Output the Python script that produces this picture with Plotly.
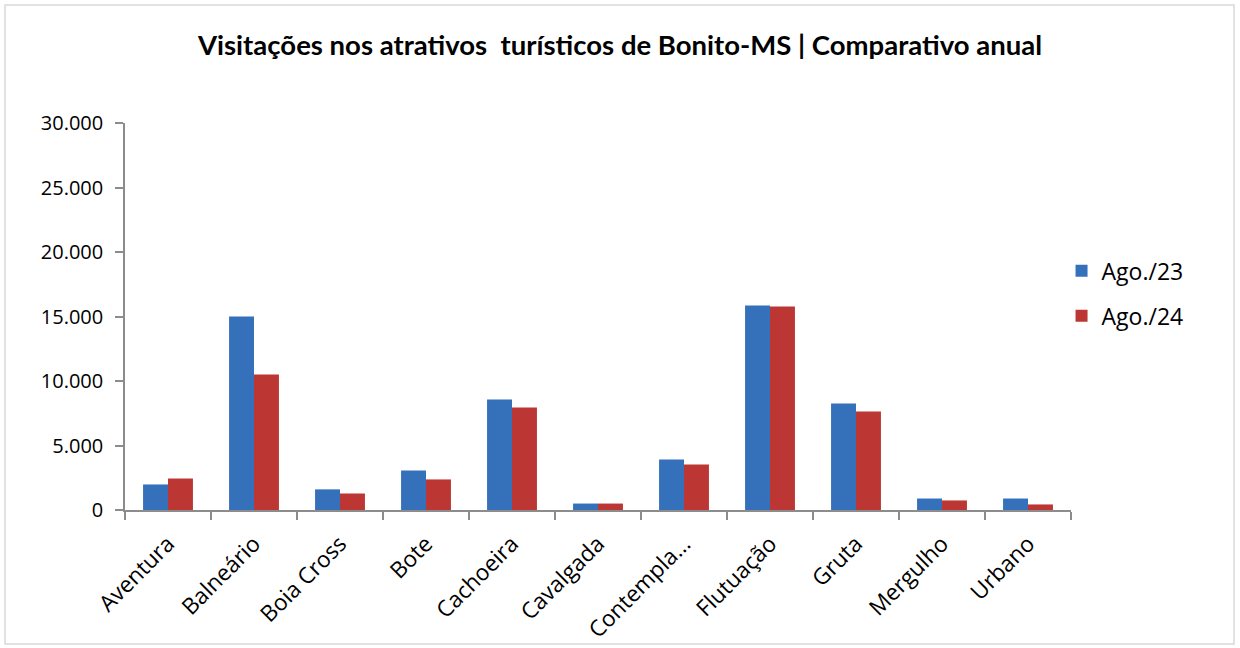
import plotly.graph_objects as go

categories = ["Aventura", "Balneário", "Boia Cross", "Bote", "Cachoeira", "Cavalgada",
              "Contempla...", "Flutuação", "Gruta", "Mergulho", "Urbano"]
ago23 = [1980, 15000, 1600, 3060, 8570, 500, 3910, 15850, 8260, 890, 890]
ago24 = [2440, 10500, 1280, 2370, 7950, 500, 3530, 15770, 7640, 740, 430]
series_names = ["Ago./23", "Ago./24"]
y_ticks = [0, 5000, 10000, 15000, 20000, 25000, 30000]

W, H = 1240, 648
ml, mr, mt, mb = 125, 169, 123, 138

fig = go.Figure()
fig.add_trace(go.Bar(x=categories, y=ago23, name=series_names[0], legendgroup="a",
                     marker=dict(color="#3571BA", line=dict(width=0))))
fig.add_trace(go.Bar(x=categories, y=ago24, name=series_names[1], legendgroup="b",
                     marker=dict(color="#BC3634", line=dict(width=0))))

pw = W - ml - mr
ph = H - mt - mb
fig.add_shape(type="rect", xref="paper", yref="paper",
              x0=(5 - ml) / pw, x1=(W - 6 - ml) / pw,
              y0=(H - 644 - mb) / ph, y1=(H - 5 - mb) / ph,
              line=dict(color="#D9D9D9", width=1.5), layer="below")

tick_font = "Open Sans, DejaVu Sans, sans-serif"

fig.update_layout(
    width=W, height=H,
    margin=dict(l=ml, r=mr, t=mt, b=mb, autoexpand=False),
    paper_bgcolor="white", plot_bgcolor="white",
    separators=",.",
    font=dict(family=tick_font, color="black"),
    title=dict(text="<b>Visitações nos atrativos \u00a0turísticos de Bonito-MS | Comparativo anual</b>",
               x=0.5, xanchor="center", y=1 - 45 / H, yanchor="middle",
               font=dict(family="Lato, Carlito, sans-serif", size=27.5, color="black")),
    barmode="group", bargap=0.42, bargroupgap=0,
    showlegend=True,
    legend=dict(x=0.99, xanchor="left", y=0.56, yanchor="middle",
                font=dict(size=23), tracegroupgap=12, bgcolor="rgba(0,0,0,0)"),
    xaxis=dict(showline=True, linecolor="#8C8C8C", linewidth=1.5, automargin=False,
               ticks="outside", tickson="boundaries", ticklen=8, tickcolor="#8C8C8C", tickwidth=1.5,
               tickangle=-45, tickfont=dict(size=22.5), ticklabelstandoff=10, showgrid=False),
    yaxis=dict(range=[0, 30000], tickvals=y_ticks, tickformat=",.0f", automargin=False,
               showline=True, linecolor="#8C8C8C", linewidth=1.5,
               ticks="outside", ticklen=8, tickcolor="#8C8C8C", tickwidth=1.5,
               ticklabelstandoff=8,
               tickfont=dict(size=20), showgrid=False, zeroline=False),
)

fig.write_html("out.html", config={"displayModeBar": False},
               post_script="document.body.style.margin='0';document.body.style.overflow='hidden';")
